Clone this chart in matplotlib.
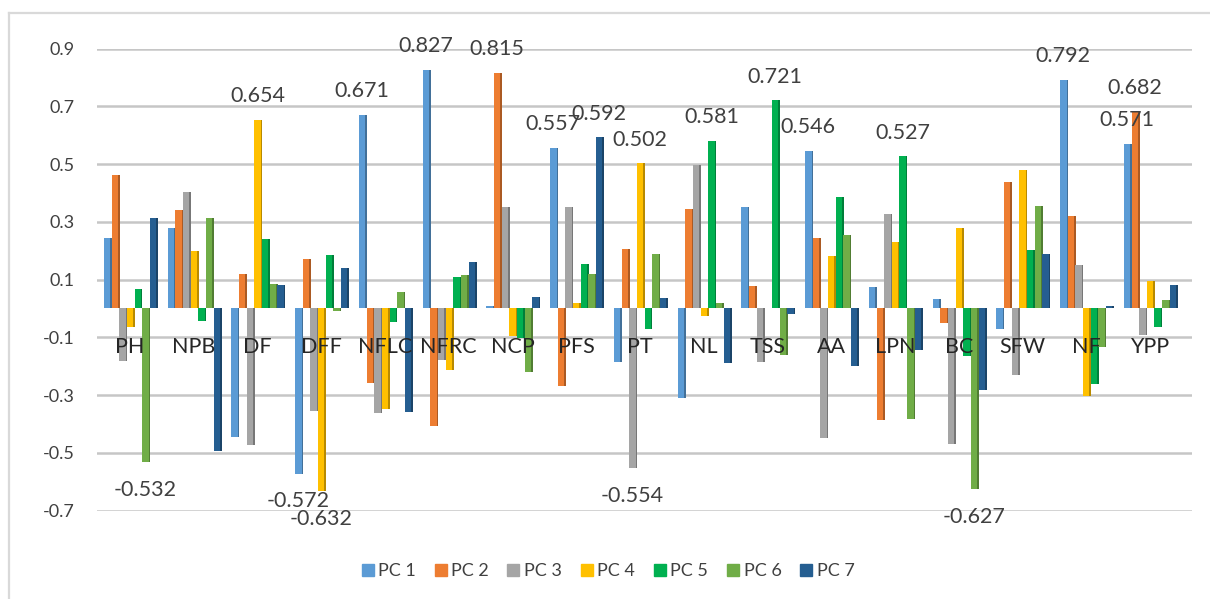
import numpy as np
import matplotlib.pyplot as plt
from matplotlib.lines import Line2D
from matplotlib.colors import to_rgb

plt.rcParams['font.family'] = ['Lato', 'DejaVu Sans']

# Traits and principal component loadings
traits = ['PH', 'NPB', 'DF', 'DFF', 'NFLC', 'NFRC', 'NCP', 'PFS', 'PT', 'NL',
          'TSS', 'AA', 'LPN', 'BC', 'SFW', 'NF', 'YPP']
pc1 = [0.244, 0.278, -0.447, -0.572, 0.671, 0.827, 0.008, 0.557, -0.186, -0.310,
       0.350, 0.546, 0.075, 0.034, -0.070, 0.792, 0.571]
pc2 = [0.462, 0.342, 0.118, 0.172, -0.258, -0.406, 0.815, -0.270, 0.206, 0.344,
       0.078, 0.244, -0.386, -0.052, 0.437, 0.321, 0.682]
pc3 = [-0.182, 0.404, -0.472, -0.354, -0.362, -0.177, 0.350, 0.350, -0.554, 0.495,
       -0.186, -0.450, 0.327, -0.470, -0.230, 0.151, -0.093]
pc4 = [-0.066, 0.200, 0.654, -0.632, -0.350, -0.215, -0.095, 0.017, 0.502, -0.026,
       0.003, 0.182, 0.230, 0.278, 0.478, -0.302, 0.096]
pc5 = [0.066, -0.043, 0.241, 0.186, -0.046, 0.110, -0.103, 0.153, -0.072, 0.581,
       0.721, 0.386, 0.527, -0.165, 0.201, -0.261, -0.066]
pc6 = [-0.532, 0.313, 0.084, -0.008, 0.058, 0.114, -0.220, 0.119, 0.189, 0.020,
       -0.160, 0.255, -0.383, -0.627, 0.356, -0.133, 0.029]
pc7 = [0.313, -0.493, 0.081, 0.139, -0.360, 0.159, 0.038, 0.592, 0.037, -0.188,
       -0.020, -0.200, -0.143, -0.284, 0.188, 0.010, 0.082]

series = [pc1, pc2, pc3, pc4, pc5, pc6, pc7]
names = ['PC 1', 'PC 2', 'PC 3', 'PC 4', 'PC 5', 'PC 6', 'PC 7']
colors = ['#5B9BD5', '#ED7D31', '#A5A5A5', '#FFC000', '#00B050', '#70AD47', '#255E91']

fig = plt.figure(figsize=(12.1, 5.99), dpi=100)
ax = fig.add_axes([0.0802, 0.1477, 0.905, 0.7713])

x = np.arange(len(traits))
step = 0.12
face_w = 0.10
side_w = 0.025

for i, (vals, col) in enumerate(zip(series, colors)):
    pos = x + (i - 3) * step
    dark = tuple(c * 0.72 for c in to_rgb(col))
    ax.bar(pos + face_w / 2, vals, width=side_w, align='edge', color=dark, zorder=3)
    ax.bar(pos, vals, width=face_w, color=col, zorder=4)
    for p, v in zip(pos, vals):
        if abs(v) > 0.5:
            off = 17 if v > 0 else -20
            ax.annotate(f'{v:.3f}', (p, v), xytext=(0, off), textcoords='offset points',
                        ha='center', va='center', fontsize=15.5, color='#404040',
                        zorder=6, annotation_clip=False)

for xi, t in zip(x, traits):
    ax.text(xi, -0.135, t, ha='center', va='center', fontsize=15.5, color='#262626', zorder=5)

ax.set_xlim(-0.518, 16.66)
ax.set_ylim(-0.7, 0.9)
ax.set_yticks(np.arange(-0.7, 0.91, 0.2))
ax.set_yticklabels([f'{v:.1f}' for v in np.arange(-0.7, 0.91, 0.2)])
ax.set_xticks([])
ax.tick_params(axis='y', length=0, pad=16, labelsize=13, labelcolor='#404040')
ax.grid(axis='y', color='#c6c6c6', linewidth=1.8, zorder=0)
ax.set_axisbelow(True)
for s in ax.spines.values():
    s.set_visible(False)

handles = [Line2D([], [], marker='s', linestyle='none', markersize=8.5, color=c)
           for c in colors]
fig.legend(handles, names, loc='center', bbox_to_anchor=(0.502, 0.047), ncol=7,
           frameon=False, fontsize=13, handletextpad=0.2, columnspacing=0.95,
           labelcolor='#404040', handlelength=0.8)

# chart area border
fig.add_artist(Line2D([9 / 1210, 9 / 1210], [0, 1 - 13 / 599], transform=fig.transFigure,
                      color='#d9d9d9', linewidth=1.6))
fig.add_artist(Line2D([9 / 1210, 1], [1 - 13 / 599, 1 - 13 / 599], transform=fig.transFigure,
                      color='#d9d9d9', linewidth=1.6))

fig.savefig('out.png', dpi=100)
